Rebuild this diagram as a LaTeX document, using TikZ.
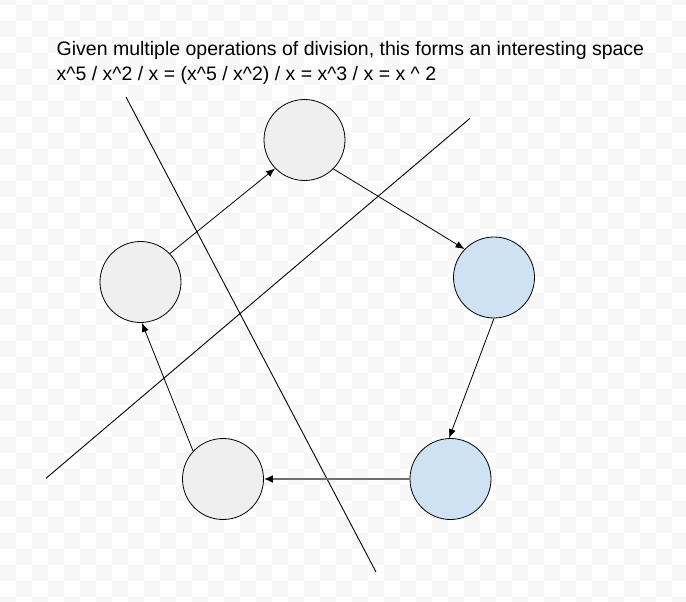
\documentclass[tikz,border=0pt]{standalone}
\usepackage{fontspec}
\setmainfont{Liberation Sans}
\usetikzlibrary{arrows.meta}

\definecolor{cellgray}{HTML}{F7F7F7}
\definecolor{nodegray}{HTML}{EFEFEF}
\definecolor{nodeblue}{HTML}{CFE2F3}
\definecolor{linkgray}{HTML}{6F6F6F}

\begin{document}
\begin{tikzpicture}[x=1pt,y=-1pt,
    ball/.style={circle,draw=black,line width=0.8pt,minimum size=81pt,inner sep=0pt},
    link/.style={line width=0.8pt,-{Latex[length=9pt,width=7pt]}},
    cut/.style={line width=0.9pt},
    txt/.style={anchor=base west,inner sep=0pt,font=\fontsize{19.5}{23}\selectfont}]
              \useasboundingbox (0,0) rectangle (686,602);
              \clip (0,0) rectangle (686,602);
              \fill[white] (0,0) rectangle (686,602);
              \foreach \i in {0,...,42}
                \foreach \j in {-1,...,37}
                  {\ifodd\numexpr\i+\j\relax
                     \fill[cellgray] (16*\i,4.7+16*\j) rectangle ++(16,16);
                   \fi}
              \node[txt](title)at(56.5,55.5){Given multiple operations of division, this forms an interesting space};
              \node[txt](formula)at(56.5,81){x\^{}5 / x\^{}2 / x = (x\^{}5 / x\^{}2) / x = x\^{}3 / x = x \^{} 2};
              \node[ball,fill=nodegray](top)at(304.5,140){};
              \node[ball,fill=nodeblue](right)at(494,277.5){};
              \node[ball,fill=nodeblue](lowright)at(450.5,479){};
              \node[ball,fill=nodegray](lowleft)at(223,479){};
              \node[ball,fill=nodegray](left)at(140.5,282){};
              \draw[cut](126,97)--(376,572);
              \draw[cut](46,478.3)--(470,118.3);
              \draw[link](top.-45.5)--(right.136.5);
              \draw[link](right.-90)--(lowright.92);
              \draw[link,linkgray,line width=2pt,-{Latex[length=9pt,width=8pt,black]}](lowright.west)--(lowleft.east);
              \draw[link](lowleft.137.7)--(left.-88);
              \draw[link](left.44)--(top.224.5);
            \end{tikzpicture}
\end{document}
